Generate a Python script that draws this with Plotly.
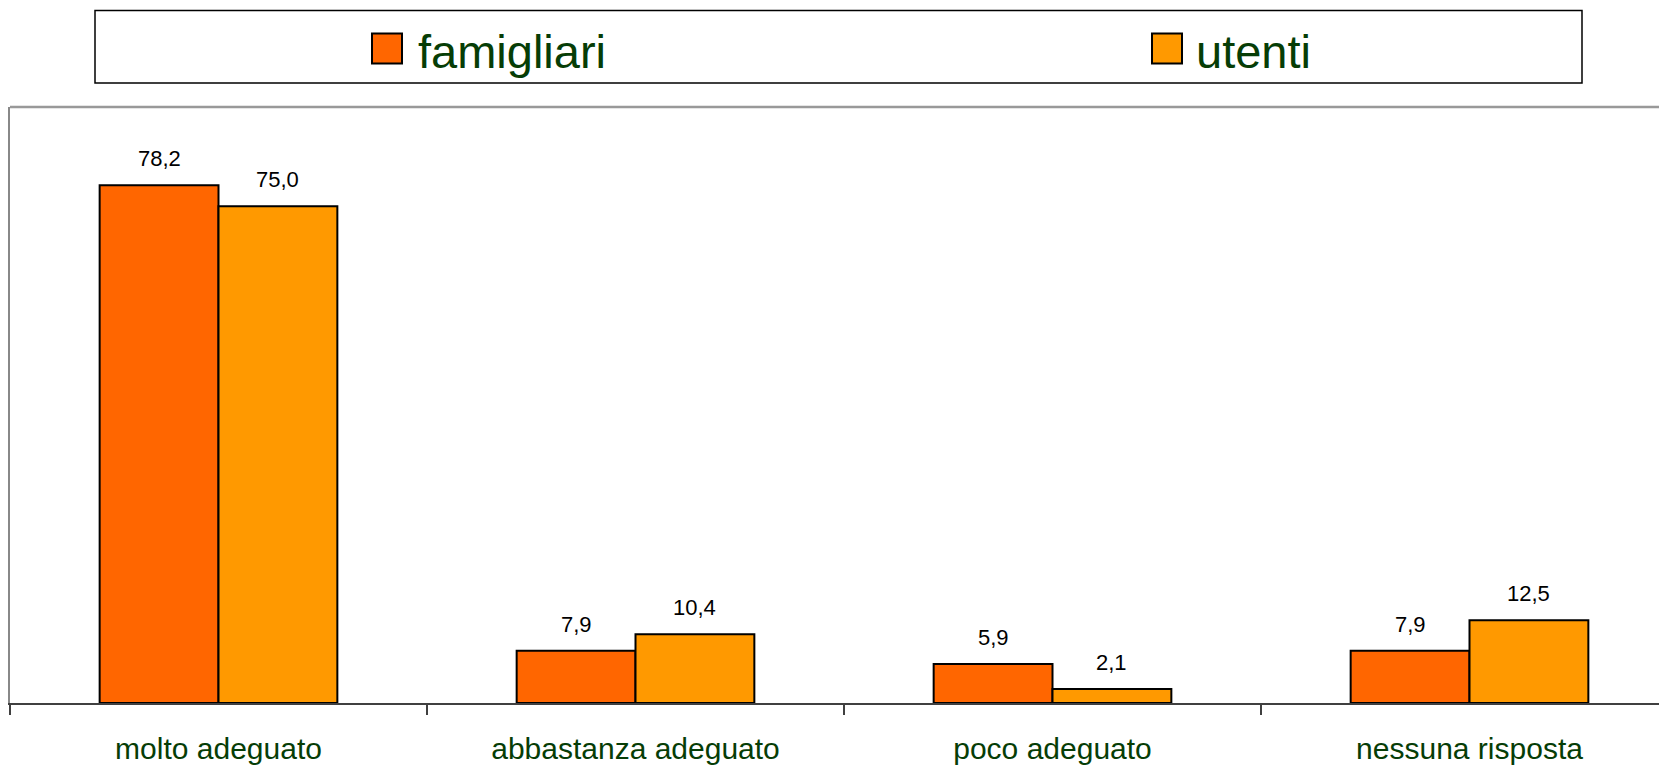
import plotly.graph_objects as go

categories = ["molto adeguato", "abbastanza adeguato", "poco adeguato", "nessuna risposta"]
famigliari = [78.2, 7.9, 5.9, 7.9]
utenti = [75.0, 10.4, 2.1, 12.5]
series_names = ["famigliari", "utenti"]
series_colors = ["#FF6600", "#FF9900"]

W, H = 1659, 765
ML, MR, MT, MB = 10, 0, 107, 62
PW = W - ML - MR
PH = H - MT - MB
FONT = "Liberation Sans, Arial, sans-serif"
GREEN = "#063d06"


def px2x(px):
    return (px - ML) / PW


def px2y(py):
    return (H - MB - py) / PH


fig = go.Figure()
for name, vals, col in zip(series_names, [famigliari, utenti], series_colors):
    fig.add_trace(go.Bar(
        name=name, x=categories, y=vals,
        marker=dict(color=col, line=dict(color="#000000", width=2)),
        showlegend=False, hoverinfo="skip",
    ))

# value labels above bars
bar_w = (1 - 0.43) / 2
annotations = []
for k, vals in enumerate([famigliari, utenti]):
    off = -bar_w / 2 if k == 0 else bar_w / 2
    for i, v in enumerate(vals):
        annotations.append(dict(
            x=i + off, y=v, xref="x", yref="y",
            text=f"{v:.1f}".replace(".", ","),
            showarrow=False, yanchor="bottom", yshift=12,
            font=dict(family=FONT, size=22, color="#000000"),
        ))

# manual legend
shapes = [
    dict(type="rect", xref="paper", yref="paper",
         x0=px2x(95), x1=px2x(1582), y0=px2y(83), y1=px2y(10.6),
         line=dict(color="#000000", width=1.5), fillcolor="white"),
    dict(type="line", xref="paper", yref="paper",
         x0=0, x1=1.01, y0=1, y1=1,
         line=dict(color="#999999", width=2.5)),
]
sq_x = [372, 1152]
txt_x = [416, 1194]
for k in range(2):
    shapes.append(dict(type="rect", xref="paper", yref="paper",
                       x0=px2x(sq_x[k]), x1=px2x(sq_x[k] + 30),
                       y0=px2y(63.5), y1=px2y(33.5),
                       line=dict(color="#000000", width=2),
                       fillcolor=series_colors[k]))
    annotations.append(dict(
        x=px2x(txt_x[k]), y=px2y(52), xref="paper", yref="paper",
        text=series_names[k], showarrow=False,
        xanchor="left", yanchor="middle",
        font=dict(family=FONT, size=47, color=GREEN),
    ))

fig.update_layout(
    width=W, height=H,
    margin=dict(l=ML, r=MR, t=MT, b=MB, pad=0, autoexpand=False),
    paper_bgcolor="white", plot_bgcolor="white",
    barmode="group", bargap=0.43, bargroupgap=0,
    showlegend=False,
    shapes=shapes, annotations=annotations,
    xaxis=dict(
        range=[-0.5, -0.5 + PW / 417.0],
        automargin=False,
        showline=True, linecolor="#404040", linewidth=2,
        ticks="outside", tickson="boundaries", ticklen=10,
        tickcolor="#404040", tickwidth=1.5,
        tickfont=dict(family=FONT, size=30, color=GREEN),
        ticklabelstandoff=18,
        showgrid=False, zeroline=False,
    ),
    yaxis=dict(
        range=[0, 90], automargin=False,
        showline=True, linecolor="#888888", linewidth=2,
        showticklabels=False, ticks="", showgrid=False, zeroline=False,
    ),
)

fig.write_html(
    "out.html",
    config={"displayModeBar": False, "staticPlot": True},
    post_script="document.body.style.margin='0';document.body.style.overflow='hidden';",
)
